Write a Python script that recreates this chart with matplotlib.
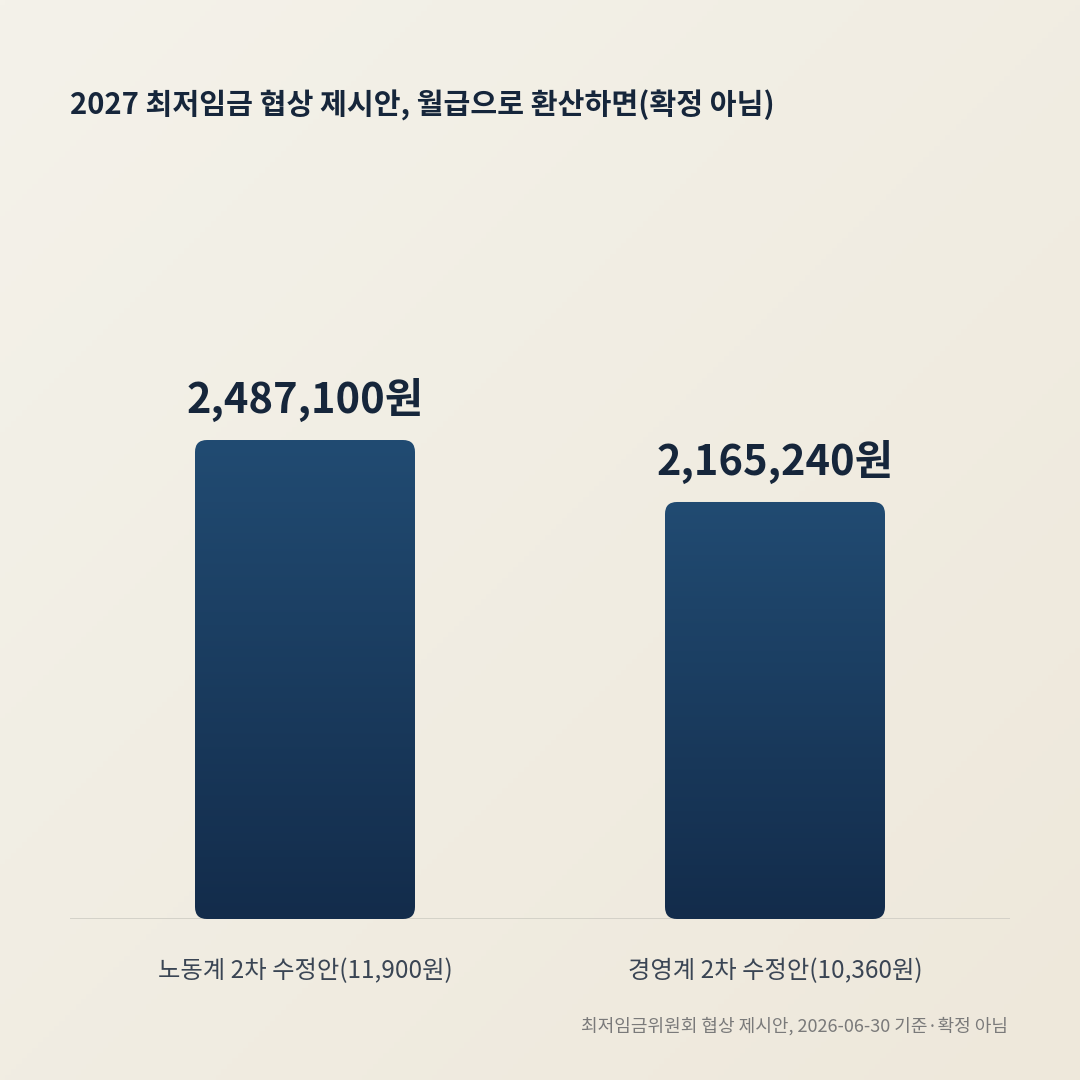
import numpy as np
import matplotlib.pyplot as plt
from matplotlib.patches import FancyBboxPatch

plt.rcParams['font.family'] = ['Noto Sans CJK KR', 'DejaVu Sans']

categories = ['노동계 2차 수정안(11,900원)', '경영계 2차 수정안(10,360원)']
values = [2487100, 2165240]
value_labels = ['2,487,100원', '2,165,240원']
title = '2027 최저임금 협상 제시안, 월급으로 환산하면(확정 아님)'
source = '최저임금위원회 협상 제시안, 2026-06-30 기준·확정 아님'

W = H = 1080
fig = plt.figure(figsize=(10.8, 10.8), dpi=100)

# background gradient
bg = fig.add_axes([0, 0, 1, 1], zorder=-10)
yy, xx = np.mgrid[0:1:200j, 0:1:200j]
t = (xx + yy) / 2
c0 = np.array([0xf4, 0xf2, 0xea]) / 255
c1 = np.array([0xee, 0xe8, 0xdb]) / 255
bg.imshow(c0 + (c1 - c0) * t[..., None], extent=[0, 1, 0, 1], aspect='auto')
bg.axis('off')

base_px = 919
ymax = 3000000
px_per_val = 479 / values[0]
ax_h = ymax * px_per_val
ax = fig.add_axes([70 / W, (H - base_px) / H, 940 / W, ax_h / H])
ax.set_xlim(-0.5, 1.5)
ax.set_ylim(0, ymax)
ax.axis('off')
ax.patch.set_alpha(0)

bw = 220 / 470
top_c = np.array([0x21, 0x4b, 0x72]) / 255
bot_c = np.array([0x13, 0x2c, 0x4b]) / 255
grad = np.linspace(0, 1, 256)[:, None]
img = top_c + (bot_c - top_c) * grad[..., None]
aspect = (1 / px_per_val) / (1 / 470)
for i, v in enumerate(values):
    x0 = i - bw / 2
    patch = FancyBboxPatch((x0, 0), bw, v, boxstyle='round,pad=0,rounding_size=%f' % (12 / 470),
                           mutation_aspect=aspect, facecolor='none', edgecolor='none')
    ax.add_patch(patch)
    im = ax.imshow(img, extent=[x0, x0 + bw, 0, v], aspect='auto', zorder=2)
    im.set_clip_path(patch)
    ax.text(i, v + 18 / px_per_val, value_labels[i], ha='center', va='bottom',
            fontsize=30, fontweight='bold', color='#16263b')
    ax.text(i, -52 / px_per_val, categories[i], ha='center', va='center',
            fontsize=17.5, color='#3a4554', fontweight='medium')
ax.set_xlim(-0.5, 1.5)
ax.set_ylim(0, ymax)
ax.axhline(0, color='#cfcdc4', lw=1.2, zorder=1)

fig.text(70 / W, 1 - 105 / H, title, ha='left', va='center', fontsize=21,
         fontweight='bold', color='#16263b')
fig.text(1008 / W, 1 - 1026 / H, source, ha='right', va='center', fontsize=13,
         color='#7a7a7a')

fig.savefig('out.png', dpi=100)
